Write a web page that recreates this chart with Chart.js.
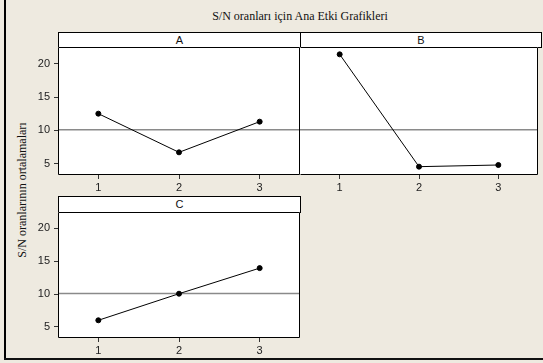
<!DOCTYPE html>
<html>
<head>
<meta charset="utf-8">
<script src="https://cdn.jsdelivr.net/npm/chart.js@4/dist/chart.umd.min.js"></script>
<style>
    body { margin: 0; width: 543px; height: 363px; background: #EEEAE0; position: relative; overflow: hidden; font-family: "Liberation Sans", Arial, sans-serif; }
    canvas { position: absolute; }
    .strip { position: absolute; box-sizing: border-box; background: #fff; border: 1px solid #000; text-align: center; font-size: 11px; color: #111; }
    #title { position: absolute; left: 58px; width: 484px; top: 9px; text-align: center; font-family: "Liberation Serif", "Times New Roman", serif; font-size: 12px; color: #111; }
    #ytitle { position: absolute; left: 22px; top: 190px; transform: translate(-50%, -50%) rotate(-90deg); white-space: nowrap; font-family: "Liberation Serif", "Times New Roman", serif; font-size: 12px; color: #111; }
    #frame-left { position: absolute; left: 4px; top: 0; width: 2px; height: 360px; background: #000; }
    #frame-bottom { position: absolute; left: 4px; top: 358px; width: 539px; height: 2px; background: #111; }
</style>
</head>
<body>
<div id="frame-left"></div>
<div id="frame-bottom"></div>
<div id="title">S/N oranları için Ana Etki Grafikleri</div>
<div id="ytitle">S/N oranlarının ortalamaları</div>

<div class="strip" style="left:58px;top:32px;width:243px;height:16px;line-height:14px;">A</div>
<div class="strip" style="left:300px;top:32px;width:242px;height:16px;line-height:14px;">B</div>
<div class="strip" style="left:58px;top:196px;width:243px;height:17px;line-height:15px;">C</div>

<canvas id="chart-a" width="287" height="156" style="left:18px;top:42px;"></canvas>
<canvas id="chart-b" width="248" height="156" style="left:295px;top:42px;"></canvas>
<canvas id="chart-c" width="287" height="154" style="left:18px;top:207px;"></canvas>

<script>
// values (mean S/N per factor level)
const levels = [1, 2, 3];
const factorA = [12.5, 6.7, 11.3];
const factorB = [21.4, 4.55, 4.8];
const factorC = [6.0, 10.05, 13.95];
const grandMean = 10.1;
const yTicks = [5, 10, 15, 20];

// white plot background + box around the plot area
const panelBox = {
    id: 'panelBox',
    beforeDraw(chart) {
        const a = chart.chartArea;
        const ctx = chart.ctx;
        ctx.save();
        ctx.fillStyle = '#fff';
        ctx.fillRect(a.left, a.top, a.right - a.left, a.bottom - a.top);
        ctx.restore();
    },
    afterDraw(chart) {
        const a = chart.chartArea;
        const ctx = chart.ctx;
        const l = a.left + 0.5, r = a.right - 0.5, t = a.top + 0.5, b = a.bottom - 0.5;
        ctx.save();
        ctx.strokeStyle = '#000';
        ctx.lineWidth = 1;
        ctx.beginPath();
        ctx.moveTo(l, t);
        ctx.lineTo(r, t);
        ctx.lineTo(r, b);
        ctx.lineTo(l, b);
        if (chart.options.plugins.panelBox.leftEdge) ctx.lineTo(l, t);
        ctx.stroke();
        ctx.restore();
    }
};

function makePanel(id, values, opts) {
    const ctx = document.getElementById(id).getContext('2d');
    return new Chart(ctx, {
        type: 'line',
        data: {
            datasets: [
                {
                    data: values.map((v, i) => ({ x: levels[i], y: v })),
                    borderColor: '#000',
                    borderWidth: 1,
                    pointRadius: 2.5,
                    pointBackgroundColor: '#000',
                    pointBorderColor: '#000',
                    order: 1
                },
                {
                    data: [{ x: 0.5, y: grandMean }, { x: 3.5, y: grandMean }],
                    borderColor: '#8a8a8a',
                    borderWidth: 1.5,
                    pointRadius: 0,
                    order: 2
                }
            ]
        },
        options: {
            responsive: false,
            animation: false,
            events: [],
            layout: { padding: { top: 1, left: opts.padLeft, right: opts.padRight, bottom: 0 } },
            plugins: {
                legend: { display: false },
                tooltip: { enabled: false },
                panelBox: { leftEdge: opts.showY }
            },
            scales: {
                x: {
                    type: 'linear',
                    min: 0.5,
                    max: 3.5,
                    afterBuildTicks: s => { s.ticks = levels.map(v => ({ value: v })); },
                    afterFit: s => { s.height = 23; s.paddingLeft = 0; s.paddingRight = 0; },
                    border: { display: false },
                    grid: { drawOnChartArea: false, tickLength: 4, color: '#333' },
                    ticks: { color: '#222', padding: 2, font: { family: 'Liberation Sans', size: 11 } }
                },
                y: {
                    display: opts.showY,
                    min: 3.3,
                    max: 22.5,
                    afterBuildTicks: s => { s.ticks = yTicks.map(v => ({ value: v })); },
                    afterFit: s => {
                        s.width = opts.showY ? 40 : 0;
                        s.paddingTop = 0;
                        s.paddingBottom = 0;
                    },
                    border: { display: false },
                    grid: { drawOnChartArea: false, tickLength: 4, color: '#333' },
                    ticks: { color: '#222', padding: 4, font: { family: 'Liberation Sans', size: 11 } }
                }
            }
        },
        plugins: [panelBox]
    });
}

makePanel('chart-a', factorA, { showY: true, padLeft: 0, padRight: 4 });
makePanel('chart-b', factorB, { showY: false, padLeft: 5, padRight: 1 });
makePanel('chart-c', factorC, { showY: true, padLeft: 0, padRight: 4 });
</script>
</body>
</html>
